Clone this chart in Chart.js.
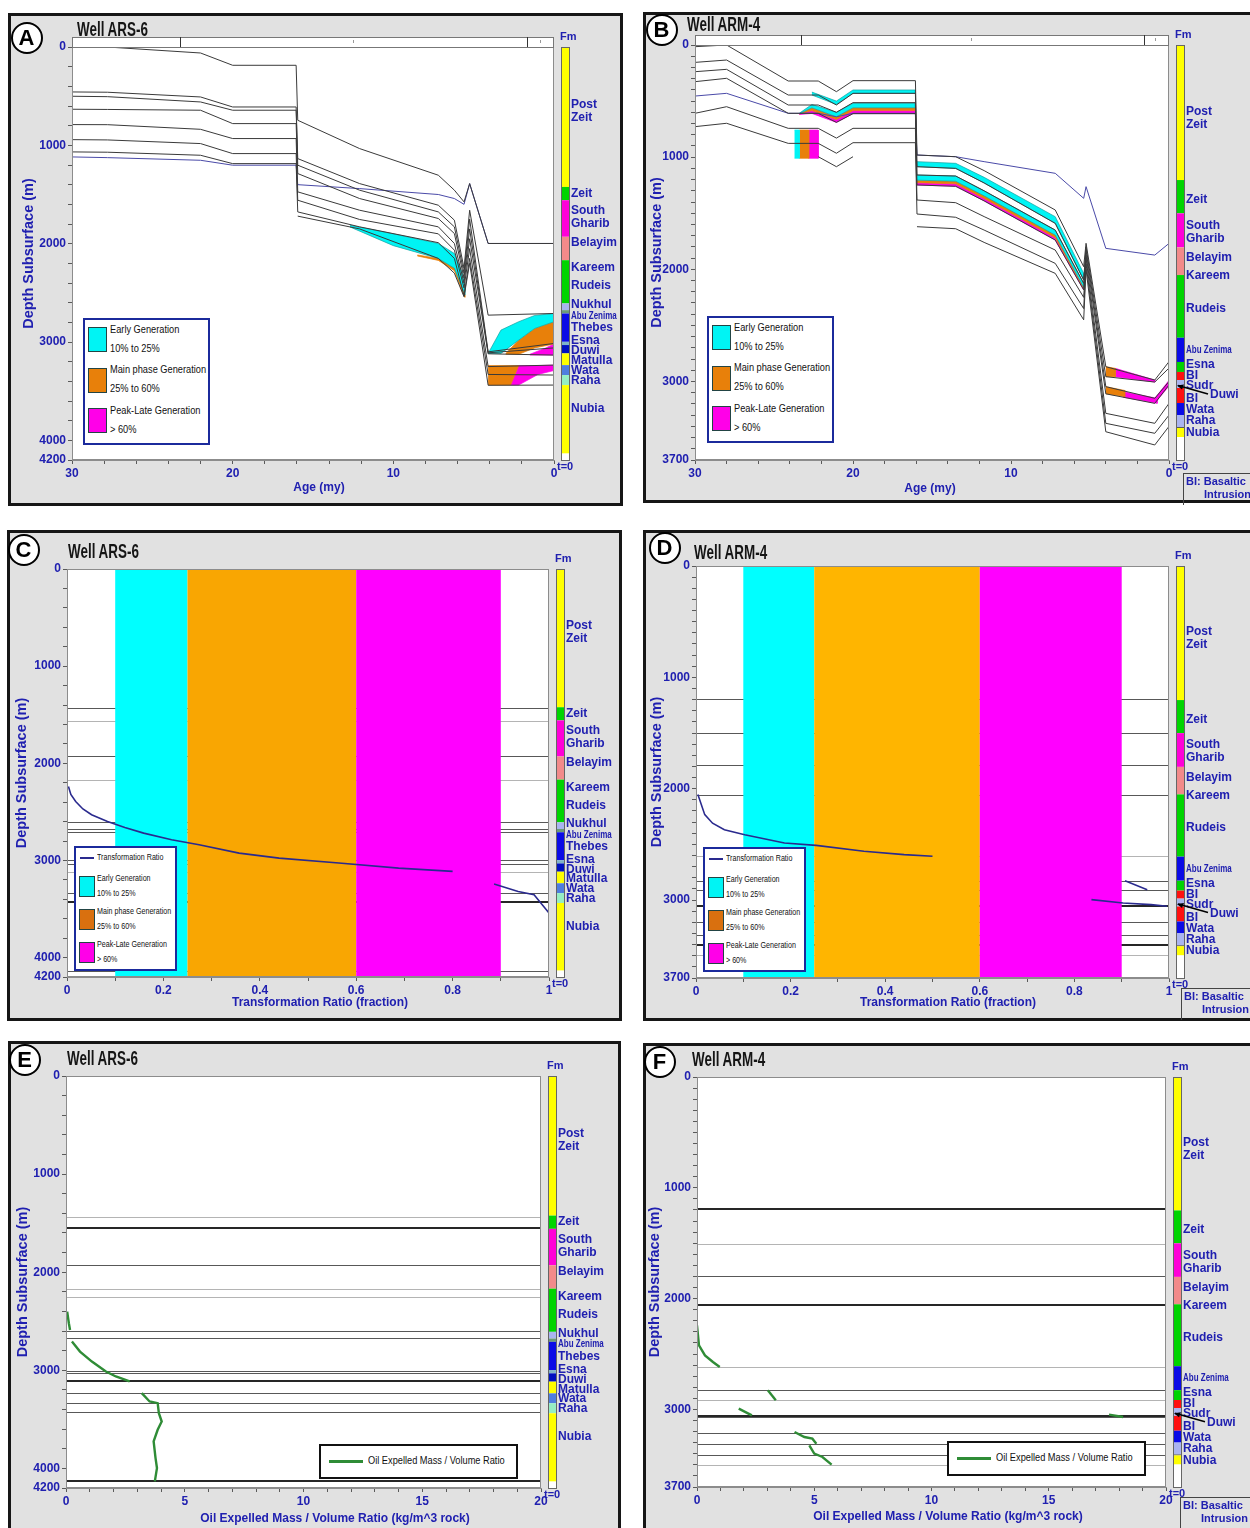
<!DOCTYPE html>
<html>
<head>
<meta charset="utf-8">
<title>ARS-6 / ARM-4 burial history and generation</title>
<script src="https://cdn.jsdelivr.net/npm/chart.js@4.4.1/dist/chart.umd.min.js"></script>
<style>
  body { margin: 0; width: 1250px; height: 1528px; position: relative; overflow: hidden; background: #fff; }
  .panel { position: absolute; background: #e1e1e1; border: 3px solid #161616; box-sizing: border-box; }
  canvas.plot { position: absolute; z-index: 1; }
  .tag { position: absolute; z-index: 2; width: 28px; height: 28px; border: 2.5px solid #000; border-radius: 50%; background: #fff;
         font: bold 22px "Liberation Sans", Arial, sans-serif; text-align: center; line-height: 28px; color: #000; }
  .well { position: absolute; z-index: 2; font: bold 21px "Liberation Sans", Arial, sans-serif; color: #151515;
          line-height: 22px; transform: scaleX(0.64); transform-origin: 0 50%; white-space: nowrap; }
  .box { position: absolute; z-index: 2; background: #fff; box-sizing: border-box; }
  .sw { position: absolute; z-index: 3; box-sizing: border-box; border: 1px solid #244; }
  .txt { position: absolute; z-index: 3; font-family: "Liberation Sans", Arial, sans-serif; color: #111;
         white-space: nowrap; line-height: 1; transform: scaleX(0.84); transform-origin: 0 50%; }
  .bi { position: absolute; z-index: 2; border-left: 1.5px solid #444; border-top: 1.5px solid #444; box-sizing: border-box; }
  .bit { position: absolute; z-index: 3; font: bold 11px "Liberation Sans", Arial, sans-serif; color: #2020b0; white-space: nowrap; line-height: 1; }
</style>
</head>
<body>
<script>
// ---------- well ARS-6 : burial history (age my / depth m) ----------
const ageA = [30, 27.8, 22, 20, 16.05, 15.95, 12.1, 7.2, 6.2, 5.6, 5.25, 4.1, 0];
const hA1 = [null, 0, 61, 186, 186, 745, 1033, 1304, 1456, 1575, 1389, 1998, 1998];
const hA2 = [457, 460, 508, 610, 610, 1135, 1389, 1609, 1761, 2250, 1660, 2727, 2710];
const hA3 = [501, 505, 559, 643, 643, 1202, 1456, 1677, 1829, 2300, 1750, 3100, 3015];
const hA4 = [633, 635, 643, 779, 779, 1287, 1541, 1744, 1897, 2350, 1850, 3110, 3060];
const hA5 = [789, 790, 837, 931, 931, 1473, 1660, 1829, 1998, 2400, 1950, 3120, 3133];
const hA6 = [942, 945, 982, 1084, 1084, 1558, 1754, 1900, 2066, 2450, 2050, 3250, 3235];
const hA7 = [1067, 1070, 1101, 1186, 1186, 1677, 1829, 1990, 2150, 2530, 2150, 3330, 3336];
const hA8 = [null, null, null, null, null, 1720, 1850, 2150, 2300, 2540, 2200, 3440, 3438];
const hABlue = [1118, 1125, 1152, 1202, 1202, 1400, 1440, 1500, 1541, 1600, 1389, 1998, 1998];

// generation zones: [ages, top depths, base depths]
const earlyA1 = [[12.7, 10, 7.2, 6.2, 5.7, 5.55], [1812, 1900, 1998, 2100, 2300, 2450], [1830, 2020, 2150, 2250, 2450, 2520]];
const mainA1 = [[8.5, 7.2, 6.2, 5.7, 5.55], [2115, 2150, 2250, 2450, 2520], [2125, 2170, 2275, 2490, 2545]];
const earlyA2 = [[4.1, 3.3, 2.2, 1.2, 0], [3116, 2879, 2794, 2730, 2710], [3116, 3116, 2981, 2862, 2794]];
const mainA2 = [[3.0, 2.2, 1.2, 0], [3116, 2981, 2862, 2794], [3125, 3125, 3060, 3020]];
const peakA2 = [[1.5, 0.5, 0], [3125, 3060, 3020], [3133, 3133, 3133]];
const mainA3 = [[4.1, 2.7, 2.2], [3240, 3240, 3240], [3438, 3438, 3240]];
const peakA3 = [[2.7, 2.2, 1.0, 0], [3438, 3240, 3240, 3235], [3438, 3438, 3330, 3290]];

// ---------- well ARM-4 : burial history ----------
const ageB = [30, 28, 24.1, 22.2, 21.05, 20, 16.05, 15.95, 13.5, 11.7, 7.2, 5.4, 5.25, 4.0, 0.9, 0];
const hB1 = [15, 0, 321, 321, 416, 318, 318, 981, 996, 1120, 1471, 1976, 1768, 2868, 2987, 2823];
const hB2 = [155, 134, 446, 446, 535, 431, 431, 1085, 1100, 1230, 1590, 2095, 1800, 2957, 3005, 2880];
const hB3 = [238, 217, 535, 535, 600, 514, 514, 1159, 1168, 1300, 1650, 2125, 1830, 3046, 3150, 3000];
const hB4 = [327, 297, 609, 609, 690, 612, 612, 1248, 1260, 1390, 1739, 2184, 1870, 3110, 3195, 3031];
const hB5 = [609, 550, 743, 743, 830, 743, 743, 1382, 1406, 1530, 1828, 2250, 1900, 3284, 3373, 3195];
const hB6 = [728, 698, 877, 877, 965, 871, 871, 1507, 1536, 1650, 1947, 2350, 1950, 3373, 3462, 3300];
const hB7 = [null, null, null, 996, 1085, 996, null, 1620, 1638, 1760, 2036, 2450, 2000, 3448, 3566, 3400];
const hBBlue = [455, 431, 609, 609, 640, 609, 609, 981, 996, 1040, 1144, 1367, 1263, 1813, 1873, 1769];

const earlyB1 = [[22.6, 21.05, 20, 16.05], [420, 500, 401, 401], [446, 530, 431, 431]];
const stackAgeB2 = [23.4, 22.6, 21.05, 20, 16.05];
const stackB2 = [[609, 530, 600, 520, 520], [612, 560, 640, 560, 560], [615, 585, 665, 585, 585], [620, 610, 690, 612, 612]];
const blockAgeB = [23.7, 23.4, 22.8, 22.2];
const blockDepthB = [758, 1010];
const stackAgeB3 = [15.95, 13.5, 11.7, 7.2, 5.4];
const earlyB3 = [[1040, 1055, 1180, 1531, 2036], [1085, 1100, 1230, 1590, 2095]];
const stackB4 = [[1159, 1168, 1300, 1650, 2125], [1205, 1215, 1345, 1695, 2160], [1228, 1238, 1368, 1718, 2172], [1248, 1260, 1390, 1739, 2184]];
const mainB5 = [[4.0, 3.4], [2868, 2883], [2957, 2957]];
const peakB5 = [[3.4, 0.9], [2883, 2987], [2957, 3005]];
const mainB6 = [[4.0, 2.8], [3046, 3080], [3110, 3135]];
const peakB6 = [[2.9, 0.75], [3091, 3150], [3140, 3195]];
const peakB7 = [[0.9, 0], [3150, 2990], [3195, 3040]];

// ---------- transformation ratio (fraction) vs depth ----------
const trC = [0.003, 0.008, 0.018, 0.033, 0.051, 0.084, 0.12, 0.159, 0.217, 0.274, 0.357, 0.44, 0.564, 0.688, 0.8, null, 0.886, 0.936, 0.969, 0.986, 1.0, 1.0];
const trDepthC = [2239, 2320, 2393, 2470, 2530, 2599, 2660, 2719, 2788, 2839, 2925, 2976, 3027, 3079, 3113, null, 3243, 3319, 3353, 3456, 3542, 4200];
const trD = [0.004, 0.0185, 0.035, 0.06, 0.103, 0.187, 0.254, 0.355, 0.44, 0.5, null, 0.907, 0.954, null, 0.836, 0.903, 0.962, 0.996];
const trDepthD = [2053, 2233, 2310, 2368, 2413, 2488, 2509, 2562, 2592, 2607, null, 2826, 2907, null, 2996, 3026, 3041, 3056];
const genEdges = [0.1, 0.25, 0.6, 0.9];

// ---------- oil expelled mass / volume ratio (kg/m^3) vs depth ----------
const oilE = [0.05, 0.12, 0.17, null, 0.25, 0.59, 1.09, 1.68, 2.1, 2.68, null, 3.19, 3.52, 3.86, 3.91, 4.03, 3.86, 3.69, 3.77, 3.83, 3.74];
const oilDepthE = [2402, 2520, 2589, null, 2707, 2809, 2911, 3013, 3063, 3114, null, 3233, 3318, 3335, 3437, 3522, 3607, 3725, 3895, 3997, 4133];
const oilF = [0, 0.085, 0.34, 0.68, 0.97, null, 3.02, 3.36, null, 1.78, 2.34, null, 17.57, 18.17, null, 4.16, 4.58, 4.92, 5.09, null, 4.79, 5.0, 5.35, 5.74];
const oilDepthF = [2241, 2421, 2512, 2572, 2617, null, 2828, 2918, null, 2993, 3053, null, 3047, 3068, null, 3204, 3249, 3264, 3309, null, 3324, 3399, 3429, 3498];

// ---------- formation tops ----------
const fmBoundsA = [0, 1423, 1558, 1930, 2168, 2608, 2676, 2710, 2998, 3031, 3116, 3235, 3336, 3438, 4132];
const fmNamesA = ['Post\nZeit', 'Zeit', 'South\nGharib', 'Belayim', 'Kareem', 'Rudeis', 'Nukhul', 'Abu Zenima', 'Thebes', 'Esna', 'Duwi', 'Matulla', 'Wata', 'Raha', 'Nubia'];
const fmLabelDepthA = [650, 1488, 1730, 1995, 2249, 2432, 2625, 2736, 2858, 2990, 3091, 3193, 3294, 3396, 3680];
const fmBoundsB = [0, 1204, 1501, 1804, 2051, 2610, 2826, 2915, 2987, 3058, 3192, 3299, 3406, 3415, 3495];
const fmNamesB = ['Post\nZeit', 'Zeit', 'South\nGharib', 'Belayim', 'Kareem', 'Rudeis', 'Abu Zenima', 'Esna', 'BI', 'Sudr', 'BI', 'Wata', 'Raha', 'Nubia'];
const fmLabelDepthB = [651, 1382, 1667, 1899, 2060, 2354, 2719, 2853, 2951, 3040, 3156, 3254, 3352, 3459];

// horizon lines drawn across the well plots
const hLinesC = [1433, 1563, 1930, 2170, 2606, 2674, 2709, 3000, 3037, 3120, 3336, 3432, 4142];
const hLinesD = [1191, 1500, 1790, 2053, 2607, 2826, 2907, 3056, 3197, 3311, 3407, 3497];
const hLinesE = [1435, 1554, 1927, 2171, 2249, 2599, 2674, 3003, 3030, 3114, 3233, 3335, 3430, 4133];
const hLinesF = [1188, 1504, 1796, 2055, 2617, 2828, 2918, 3055, 3068, 3209, 3315, 3414, 3498];

// time scale strip above the burial plots
const stripAgesA = [23.3, 1.7], stripMarksA = [12.5, 0.9];
const stripAgesB = [23.3, 1.6], stripMarksB = [12.5, 0.9];

// ---------- styles ----------
const BLUE = '#2020b0';
const CYAN = '#00f4f4', ORANGE = '#e8800a', MAGENTA = '#ff00e8';
const YEL = '#ffff00', GRN = '#00d400', MAG = '#ff00d8', SAL = '#f28a8a', BLU = '#0a0ae6', LAV = '#aab4f0', RED = '#ff1010';
const fmColorsA = [YEL, GRN, MAG, SAL, GRN, LAV, '#6a9a7a', BLU, '#7fb4c8', '#0010c0', YEL, '#4f7de0', '#96eec4', YEL];
const fmColorsB = [YEL, GRN, MAG, SAL, GRN, BLU, GRN, RED, LAV, RED, BLU, LAV, '#555', YEL];
const toneC = [1, 0, 1, 0, 1, 1, 1, 1, 1, 0, 1, 2, 1];
const toneD = [1, 1, 1, 1, 0, 1, 1, 2, 1, 1, 2, 0];
const toneE = [0, 2, 1, 0, 0, 1, 1, 1, 1, 2, 1, 1, 1, 2];
const toneF = [2, 0, 1, 2, 0, 1, 0, 2, 1, 1, 1, 1, 0];
const TONE_COLOR = ['#b4b4b4', '#585858', '#262626'];
const TONE_WIDTH = [1, 1, 2];
const FONT = '"Liberation Sans", Arial, sans-serif';

Chart.defaults.font.family = FONT;

const pts = (xs, ys) => xs.map((x, i) => ({x: x, y: ys[i]}));

function horizon(xs, ys, color) {
  return {data: pts(xs, ys), borderColor: color || '#3a3a3a', borderWidth: 1, fill: false, order: 1, pointRadius: 0};
}

function zone(ages, top, base, color, edge) {
  const poly = pts(ages, top).concat(pts(ages, base).reverse());
  return {data: poly, fill: 'shape', backgroundColor: color, borderColor: edge || color, borderWidth: 0.7, order: 5, pointRadius: 0};
}

function runs(xs, ys, color, width) {
  const out = [];
  let cur = [];
  xs.forEach((x, i) => {
    if (x === null || ys[i] === null) { if (cur.length) out.push(cur); cur = []; }
    else cur.push({x: x, y: ys[i]});
  });
  if (cur.length) out.push(cur);
  return out.map(d => ({data: d, borderColor: color, borderWidth: width, fill: false, order: 1, pointRadius: 0}));
}

function steps(max, step) {
  const v = [];
  for (let i = 0; i * step <= max + 1e-9; i++) v.push(Math.round(i * step * 1e6) / 1e6);
  return v;
}

// ---------- datasets per panel ----------
const setsA = [hA1, hA2, hA3, hA4, hA5, hA6, hA7, hA8].map(h => horizon(ageA, h))
  .concat([horizon(ageA, hABlue, '#4a4aa8')])
  .concat([
    zone(earlyA1[0], earlyA1[1], earlyA1[2], CYAN, '#14a0a0'),
    zone(mainA1[0], mainA1[1], mainA1[2], ORANGE),
    zone(earlyA2[0], earlyA2[1], earlyA2[2], CYAN, '#14a0a0'),
    zone(mainA2[0], mainA2[1], mainA2[2], ORANGE),
    zone(peakA2[0], peakA2[1], peakA2[2], MAGENTA),
    zone(mainA3[0], mainA3[1], mainA3[2], ORANGE),
    zone(peakA3[0], peakA3[1], peakA3[2], MAGENTA)
  ]);

const setsB = [hB1, hB2, hB3, hB4, hB5, hB6, hB7].map(h => horizon(ageB, h))
  .concat([horizon(ageB, hBBlue, '#4a4aa8')])
  .concat([
    zone(earlyB1[0], earlyB1[1], earlyB1[2], CYAN, '#14a0a0'),
    zone(stackAgeB2, stackB2[0], stackB2[1], CYAN, '#14a0a0'),
    zone(stackAgeB2, stackB2[1], stackB2[2], ORANGE),
    zone(stackAgeB2, stackB2[2], stackB2[3], MAGENTA),
    zone(blockAgeB.slice(0, 2), [blockDepthB[0], blockDepthB[0]], [blockDepthB[1], blockDepthB[1]], CYAN),
    zone(blockAgeB.slice(1, 3), [blockDepthB[0], blockDepthB[0]], [blockDepthB[1], blockDepthB[1]], ORANGE),
    zone(blockAgeB.slice(2, 4), [blockDepthB[0], blockDepthB[0]], [blockDepthB[1], blockDepthB[1]], MAGENTA),
    zone(stackAgeB3, earlyB3[0], earlyB3[1], CYAN, '#14a0a0'),
    zone(stackAgeB3, stackB4[0], stackB4[1], CYAN, '#14a0a0'),
    zone(stackAgeB3, stackB4[1], stackB4[2], ORANGE),
    zone(stackAgeB3, stackB4[2], stackB4[3], MAGENTA),
    zone(mainB5[0], mainB5[1], mainB5[2], ORANGE),
    zone(peakB5[0], peakB5[1], peakB5[2], MAGENTA),
    zone(mainB6[0], mainB6[1], mainB6[2], ORANGE),
    zone(peakB6[0], peakB6[1], peakB6[2], MAGENTA),
    zone(peakB7[0], peakB7[1], peakB7[2], MAGENTA)
  ]);

const TR_COLOR = '#2a2a8e', OIL_COLOR = '#2f8c36';

const panels = [
  {key: 'A', box: [8, 13, 615, 493], area: [72, 47, 554, 460], yTitleX: 29, xTitleX: 319, xTitleY: 488,
   xMax: 30, xRev: true, xStep: 2, xMajor: [0, 10, 20, 30], xTitle: 'Age (my)',
   yMax: 4200, yStep: 200, yMajor: [0, 1000, 2000, 3000, 4000, 4200],
   sets: setsA, well: 'A', strip: [stripAgesA, stripMarksA]},
  {key: 'B', box: [643, 12, 620, 491], area: [695, 45, 1169, 460], yTitleX: 657, xTitleX: 930, xTitleY: 489,
   xMax: 30, xRev: true, xStep: 2, xMajor: [0, 10, 20, 30], xTitle: 'Age (my)',
   yMax: 3700, yStep: 100, yMajor: [0, 1000, 2000, 3000, 3700],
   sets: setsB, well: 'B', strip: [stripAgesB, stripMarksB]},
  {key: 'C', box: [7, 530, 615, 491], area: [67, 569, 549, 977], yTitleX: 22, xTitleX: 320, xTitleY: 1003,
   xMax: 1, xRev: false, xStep: 0.1, xMajor: [0, 0.2, 0.4, 0.6, 0.8, 1], xTitle: 'Transformation Ratio (fraction)',
   yMax: 4200, yStep: 200, yMajor: [0, 1000, 2000, 3000, 4000, 4200],
   sets: runs(trC, trDepthC, TR_COLOR, 1.6), well: 'A', hLines: hLinesC, tone: toneC,
   bands: ['#00ffff', '#f9a602', '#ff00ff']},
  {key: 'D', box: [643, 530, 620, 491], area: [696, 566, 1169, 978], yTitleX: 657, xTitleX: 948, xTitleY: 1003,
   xMax: 1, xRev: false, xStep: 0.1, xMajor: [0, 0.2, 0.4, 0.6, 0.8, 1], xTitle: 'Transformation Ratio (fraction)',
   yMax: 3700, yStep: 100, yMajor: [0, 1000, 2000, 3000, 3700],
   sets: runs(trD, trDepthD, TR_COLOR, 1.6), well: 'B', hLines: hLinesD, tone: toneD,
   bands: ['#00ffff', '#ffb500', '#ff00ff']},
  {key: 'E', box: [8, 1041, 613, 500], area: [66, 1076, 541, 1488], yTitleX: 23, xTitleX: 335, xTitleY: 1519,
   xMax: 20, xRev: false, xStep: 1, xMajor: [0, 5, 10, 15, 20], xTitle: 'Oil Expelled Mass / Volume Ratio (kg/m^3 rock)',
   yMax: 4200, yStep: 200, yMajor: [0, 1000, 2000, 3000, 4000, 4200],
   sets: runs(oilE, oilDepthE, OIL_COLOR, 2.4), well: 'A', hLines: hLinesE, tone: toneE},
  {key: 'F', box: [643, 1043, 620, 500], area: [697, 1077, 1166, 1487], yTitleX: 655, xTitleX: 948, xTitleY: 1517,
   xMax: 20, xRev: false, xStep: 1, xMajor: [0, 5, 10, 15, 20], xTitle: 'Oil Expelled Mass / Volume Ratio (kg/m^3 rock)',
   yMax: 3700, yStep: 100, yMajor: [0, 1000, 2000, 3000, 3700],
   sets: runs(oilF, oilDepthF, OIL_COLOR, 2.4), well: 'B', hLines: hLinesF, tone: toneF}
];

// draws plot background, bands, horizon lines, formation column and its labels
function decor(p) {
  const fm = p.well === 'A'
    ? {bounds: fmBoundsA, colors: fmColorsA, names: fmNamesA, at: fmLabelDepthA}
    : {bounds: fmBoundsB, colors: fmColorsB, names: fmNamesB, at: fmLabelDepthB};
  return {
    id: 'decor' + p.key,
    beforeDatasetsDraw(chart) {
      const {ctx, chartArea: a, scales: {x, y}} = chart;
      ctx.save();
      ctx.fillStyle = '#fff';
      ctx.fillRect(a.left, a.top, a.right - a.left, a.bottom - a.top);
      if (p.hLines) {
        p.hLines.forEach((d, i) => {
          const w = TONE_WIDTH[p.tone[i]];
          const yy = Math.round(y.getPixelForValue(d)) + (w % 2 ? 0.5 : 0);
          ctx.strokeStyle = TONE_COLOR[p.tone[i]];
          ctx.lineWidth = w;
          ctx.beginPath(); ctx.moveTo(a.left, yy); ctx.lineTo(a.right, yy); ctx.stroke();
        });
      }
      if (p.bands) {
        for (let i = 0; i < genEdges.length - 1; i++) {
          const x0 = x.getPixelForValue(genEdges[i]), x1 = x.getPixelForValue(genEdges[i + 1]);
          ctx.fillStyle = p.bands[i];
          ctx.fillRect(x0, a.top, x1 - x0, a.bottom - a.top);
        }
      }
      ctx.restore();
    },
    afterDraw(chart) {
      const {ctx, chartArea: a, scales: {x, y}} = chart;
      ctx.save();
      ctx.strokeStyle = '#8c8c8c';
      ctx.lineWidth = 1;
      ctx.strokeRect(a.left + 0.5, a.top + 0.5, a.right - a.left - 1, a.bottom - a.top - 1);

      // x axis title, centred where the original places it
      ctx.fillStyle = BLUE;
      ctx.font = 'bold 12px ' + FONT;
      ctx.textAlign = 'center';
      ctx.textBaseline = 'middle';
      ctx.fillText(p.xTitle, p.xTitleX - p.box[0], p.xTitleY - p.box[1]);

      if (p.strip) {
        const st = a.top - 10;
        ctx.fillStyle = '#fff';
        ctx.fillRect(a.left, st, a.right - a.left, 10);
        ctx.strokeStyle = '#777';
        ctx.strokeRect(a.left + 0.5, st + 0.5, a.right - a.left - 1, 10);
        ctx.strokeStyle = '#333';
        p.strip[0].forEach(age => {
          const xx = Math.round(x.getPixelForValue(age)) + 0.5;
          ctx.beginPath(); ctx.moveTo(xx, st); ctx.lineTo(xx, a.top); ctx.stroke();
        });
        ctx.strokeStyle = '#999';
        p.strip[1].forEach(age => {
          const xx = Math.round(x.getPixelForValue(age)) + 0.5;
          ctx.beginPath(); ctx.moveTo(xx, st + 3); ctx.lineTo(xx, st + 6); ctx.stroke();
        });
      }

      // formation column
      const cx = a.right + 7, cw = 8;
      const yTop = y.getPixelForValue(0), yBot = y.getPixelForValue(y.max);
      ctx.fillStyle = '#fff';
      ctx.fillRect(cx, yTop, cw, yBot - yTop);
      for (let i = 0; i < fm.colors.length; i++) {
        const y0 = y.getPixelForValue(fm.bounds[i]);
        const y1 = y.getPixelForValue(i + 1 < fm.bounds.length ? fm.bounds[i + 1] : y.max);
        ctx.fillStyle = fm.colors[i];
        ctx.fillRect(cx, y0, cw, y1 - y0);
      }
      ctx.strokeStyle = '#666';
      ctx.strokeRect(cx + 0.5, yTop + 0.5, cw, yBot - yTop);

      ctx.fillStyle = BLUE;
      ctx.textAlign = 'left';
      ctx.textBaseline = 'middle';
      fm.names.forEach((n, i) => {
        const yc = y.getPixelForValue(fm.at[i]);
        if (n === 'Abu Zenima') {
          ctx.save();
          ctx.translate(cx + cw + 2, yc);
          ctx.scale(0.8, 1);
          ctx.font = 'bold 10px ' + FONT;
          ctx.fillText(n, 0, 0);
          ctx.restore();
          return;
        }
        ctx.font = 'bold 12px ' + FONT;
        const lines = n.split('\n');
        lines.forEach((ln, j) => ctx.fillText(ln, cx + cw + 2, yc + (j - (lines.length - 1) / 2) * 13));
      });
      ctx.font = 'bold 11px ' + FONT;
      ctx.fillText('Fm', cx - 1, yTop - 10);
      ctx.fillText('t=0', cx - 4, yBot + 7);

      if (p.well === 'B') {
        const ya = y.getPixelForValue(3035), yt = y.getPixelForValue(3120);
        ctx.strokeStyle = '#000';
        ctx.lineWidth = 1.6;
        ctx.beginPath(); ctx.moveTo(cx + cw + 24, yt - 1); ctx.lineTo(cx + 2, ya); ctx.stroke();
        ctx.fillStyle = '#000';
        ctx.beginPath(); ctx.moveTo(cx + 1, ya); ctx.lineTo(cx + 8, ya - 1); ctx.lineTo(cx + 6, ya + 4); ctx.closePath(); ctx.fill();
        ctx.fillStyle = BLUE;
        ctx.font = 'bold 12px ' + FONT;
        ctx.fillText('Duwi', cx + cw + 26, yt);
      }
      ctx.restore();
    }
  };
}

function build(p) {
  const [bx, by, bw, bh] = p.box;
  const [al, at, ar, ab] = p.area;
  const panel = document.createElement('div');
  panel.className = 'panel';
  Object.assign(panel.style, {left: bx + 'px', top: by + 'px', width: bw + 'px', height: bh + 'px'});
  document.body.appendChild(panel);

  const cv = document.createElement('canvas');
  cv.className = 'plot';
  cv.width = bw; cv.height = bh;
  Object.assign(cv.style, {left: bx + 'px', top: by + 'px'});
  document.body.appendChild(cv);

  const half = 14.5 * 1.2 / 2;
  const yLeft = p.yTitleX - half;
  const wY = al - yLeft;
  const hX = p.xTitleY + 8 - ab;
  const xTicks = steps(p.xMax, p.xStep);
  const yTicks = steps(p.yMax, p.yStep);
  const tickFont = {size: 12, weight: 'bold', family: FONT};
  const titleFont = {size: 14.5, weight: 'bold', family: FONT, lineHeight: 1.2};

  new Chart(cv, {
    type: 'line',
    data: {datasets: p.sets},
    options: {
      responsive: false,
      animation: false,
      events: [],
      layout: {padding: {left: yLeft - bx, top: at - by, right: bx + bw - ar, bottom: by + bh - ab - hX}},
      elements: {point: {radius: 0}, line: {tension: 0}},
      plugins: {legend: {display: false}, tooltip: {enabled: false}},
      scales: {
        x: {
          type: 'linear', min: 0, max: p.xMax, reverse: p.xRev,
          afterBuildTicks: s => { s.ticks = xTicks.map(v => ({value: v})); },
          afterFit: s => { s.height = hX; },
          ticks: {autoSkip: false, maxRotation: 0, padding: 2, color: BLUE, font: tickFont,
                  callback: v => p.xMajor.some(m => Math.abs(m - v) < 1e-6) ? String(v) : ''},
          grid: {drawOnChartArea: false, drawTicks: true, tickLength: 4, color: '#5a5a5a'},
          border: {display: true, color: '#8c8c8c'},
          title: {display: false}
        },
        y: {
          type: 'linear', min: 0, max: p.yMax, reverse: true,
          afterBuildTicks: s => { s.ticks = yTicks.map(v => ({value: v})); },
          afterFit: s => { s.width = wY; },
          ticks: {autoSkip: false, padding: 2, color: BLUE, font: tickFont,
                  callback: v => p.yMajor.includes(v) ? String(v) : ''},
          grid: {drawOnChartArea: false, drawTicks: true, tickLength: 4, color: '#5a5a5a'},
          border: {display: true, color: '#8c8c8c'},
          title: {display: true, text: 'Depth Subsurface (m)', color: BLUE, font: titleFont, padding: 0}
        }
      }
    },
    plugins: [decor(p)]
  });
}

panels.forEach(build);

// ---------- html annotations: panel tags, well names, legends ----------
function div(cls, css, text) {
  const d = document.createElement('div');
  d.className = cls;
  Object.keys(css).forEach(k => { d.style[k] = typeof css[k] === 'number' ? css[k] + 'px' : css[k]; });
  if (text !== undefined) d.textContent = text;
  document.body.appendChild(d);
  return d;
}
function label(x, yc, text, size) {
  return div('txt', {left: x, top: yc - size * 0.55, fontSize: size}, text);
}

const tags = [['A', 27, 38], ['B', 662, 30], ['C', 24, 550], ['D', 665, 548], ['E', 25, 1060], ['F', 660, 1062]];
tags.forEach(t => div('tag', {left: t[1] - 16.5, top: t[2] - 16.5}, t[0]));
const wells = [['Well ARS-6', 77, 29], ['Well ARM-4', 687, 24], ['Well ARS-6', 68, 551], ['Well ARM-4', 694, 552], ['Well ARS-6', 67, 1058], ['Well ARM-4', 692, 1059]];
wells.forEach(w => div('well', {left: w[1], top: w[2] - 11}, w[0]));

// generation legend of the burial plots
function genLegend(x, y) {
  div('box', {left: x, top: y, width: 127, height: 127, border: '2px solid #1b2a9c'});
  const items = [[CYAN, 'Early Generation', '10% to 25%'], [ORANGE, 'Main phase Generation', '25% to 60%'], [MAGENTA, 'Peak-Late Generation', '> 60%']];
  items.forEach((it, i) => {
    const y0 = y + 9 + i * 40.5;
    div('sw', {left: x + 5, top: y0, width: 19, height: 25, background: it[0]});
    label(x + 27, y0 + 3, it[1], 11);
    label(x + 27, y0 + 22, it[2], 11);
  });
}
genLegend(83, 318);
genLegend(707, 316);

// legend of the transformation ratio plots
function trLegend(x, y) {
  div('box', {left: x, top: y, width: 103, height: 125, border: '2px solid #1b2a9c'});
  div('sw', {left: x + 6, top: y + 11, width: 14, height: 2, background: TR_COLOR, border: 'none'});
  label(x + 23, y + 12, 'Transformation Ratio', 8.5);
  const items = [[CYAN, 'Early Generation', '10% to 25%'], ['#d9700f', 'Main phase Generation', '25% to 60%'], [MAGENTA, 'Peak-Late Generation', '> 60%']];
  items.forEach((it, i) => {
    const y0 = y + 30 + i * 33;
    div('sw', {left: x + 5, top: y0, width: 16, height: 21, background: it[0]});
    label(x + 23, y0 + 3, it[1], 8.5);
    label(x + 23, y0 + 18, it[2], 8.5);
  });
}
trLegend(74, 846);
trLegend(703, 847);

// legend of the expelled oil plots
function oilLegend(x, y) {
  div('box', {left: x, top: y, width: 199, height: 35, border: '2px solid #111'});
  div('sw', {left: x + 10, top: y + 16, width: 34, height: 3, background: OIL_COLOR, border: 'none'});
  label(x + 49, y + 17, 'Oil Expelled Mass / Volume Ratio', 11);
}
oilLegend(319, 1444);
oilLegend(947, 1441);

// basaltic intrusion note for well ARM-4
[[1183, 473], [1181, 988], [1180, 1497]].forEach(b => {
  div('bi', {left: b[0], top: b[1], width: 90, height: 32});
  div('bit', {left: b[0] + 3, top: b[1] + 3}, 'BI: Basaltic');
  div('bit', {left: b[0] + 21, top: b[1] + 16}, 'Intrusion');
});
</script>
</body>
</html>
